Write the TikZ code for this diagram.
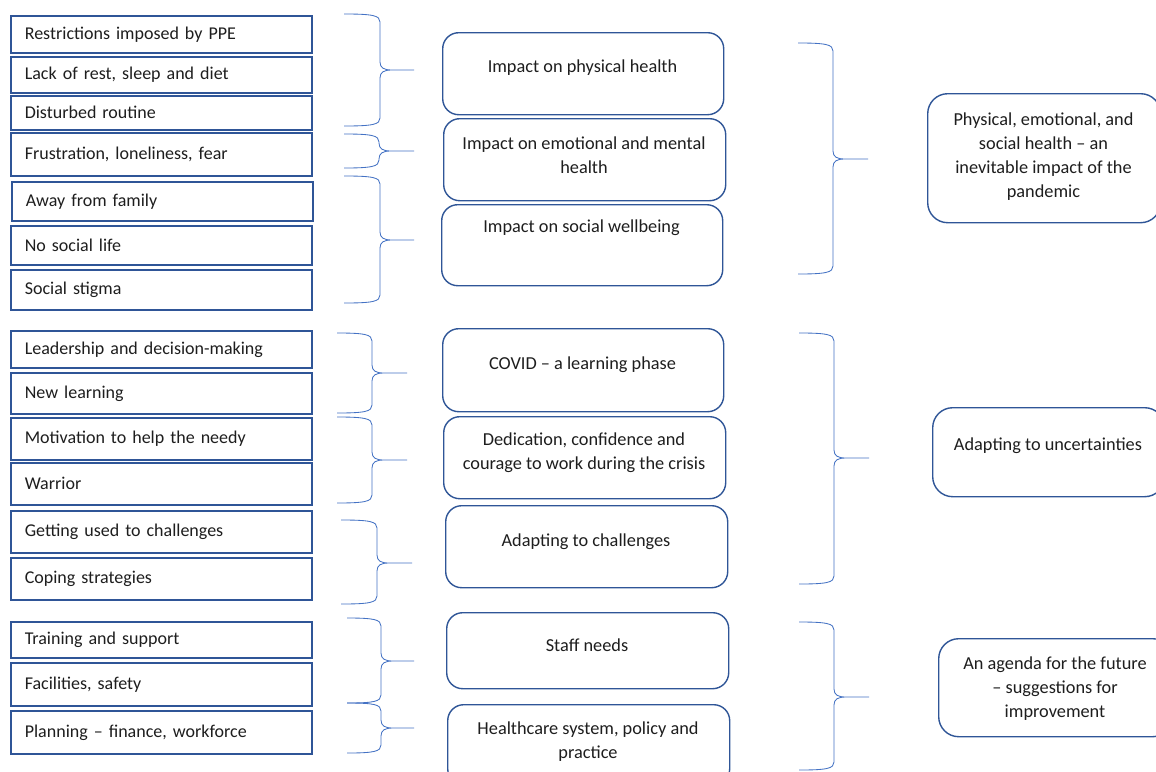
\documentclass[tikz,border=0pt]{standalone}
\usepackage{fontspec}
\setmainfont{Carlito}
\definecolor{boxblue}{HTML}{2F5597}
\definecolor{braceblue}{HTML}{4472C4}
\definecolor{ink}{HTML}{1E1E1E}
\tikzset{
  lbox/.style={draw=boxblue, line width=1.6pt, anchor=north west, minimum width=301pt,
    text width=273pt, inner xsep=14pt, inner ysep=0pt, align=left, text=ink,
    font=\fontsize{18}{24}\selectfont},
  mbox/.style={draw=boxblue, line width=1.4pt, rounded corners=16pt, anchor=north west, inner sep=0pt},
  rbox/.style={draw=boxblue, line width=1.4pt, rounded corners=20pt, anchor=north west, inner sep=0pt},
  txt/.style={align=center, text=ink, inner sep=0pt, yshift=-2pt},
  brc/.style={draw=braceblue, line width=0.85pt},
}
% name x0 x1 x2 yt ym yb
\newcommand\mybrace[7]{%
  \coordinate (#1) at (#4,#6);
  \draw[brc] (#2,#5) .. controls (#3-7,#5) and (#3,#5+1.5) .. (#3,#5+8)
    -- (#3,#6-8) .. controls (#3,#6-2) and (#3+4,#6) .. (#3+12,#6) -- (#1)
    (#3+12,#6) .. controls (#3+4,#6) and (#3,#6+2) .. (#3,#6+8)
    -- (#3,#7-8) .. controls (#3,#7-1.5) and (#3-7,#7) .. (#2,#7);
}
\begin{document}
\begin{tikzpicture}[x=1pt,y=-1pt,font=\fontsize{18.3}{24}\selectfont]
\clip (0,0) rectangle (1156,771);
\fill[white] (0,0) rectangle (1156,771);
% left boxes
\node[lbox, minimum height=37pt] (l1) at (10,15) {Restrictions imposed by PPE};
\node[lbox, minimum height=36pt] (l2) at (10,56) {Lack of rest, sleep and diet};
\node[lbox, minimum height=34pt] (l3) at (10,95) {Disturbed routine};
\node[lbox, minimum height=43pt] (l4) at (10,132) {Frustration, loneliness, fear};
\node[lbox, minimum height=39pt] (l5) at (11,181) {Away from family};
\node[lbox, minimum height=39pt] (l6) at (10,225) {No social life};
\node[lbox, minimum height=40pt] (l7) at (10,269) {Social stigma};
\node[lbox, minimum height=37pt] (l8) at (10,330) {Leadership and decision-making};
\node[lbox, minimum height=41pt] (l9) at (10,372) {New learning};
\node[lbox, minimum height=42pt] (l10) at (10,417) {Motivation to help the needy};
\node[lbox, minimum height=42pt] (l11) at (10,462) {Warrior};
\node[lbox, minimum height=42pt] (l12) at (10,510) {Getting used to challenges};
\node[lbox, minimum height=42pt] (l13) at (10,557) {Coping strategies};
\node[lbox, minimum height=36pt] (l14) at (10,621) {Training and support};
\node[lbox, minimum height=43pt] (l15) at (10,662) {Facilities, safety};
\node[lbox, minimum height=43pt] (l16) at (10,710) {Planning -- finance, workforce};
% left braces
\mybrace{b1}{344}{380}{414}{14}{70}{126}
\mybrace{b2}{344}{379}{414}{134}{151}{168}
\mybrace{b3}{344}{380}{414}{176}{240}{303}
\mybrace{b4}{337}{372}{407}{333}{373}{413}
\mybrace{b5}{337}{372}{407}{417}{460}{503}
\mybrace{b6}{341}{377}{412}{520}{563}{604}
\mybrace{b7}{347}{381}{414}{618}{661}{703}
\mybrace{b8}{347}{381}{414}{703}{728}{753}
% middle boxes
\node[mbox, minimum width=281pt, minimum height=82pt] (m1) at (442,32) {};
\node[txt] (m1t) at (582.5,66) {Impact on physical health};
\node[mbox, minimum width=282pt, minimum height=82pt] (m2) at (443,118) {};
\node[txt] (m2t) at (584,153) {Impact on emotional and mental\\health};
\node[mbox, minimum width=281pt, minimum height=81pt] (m3) at (441,204) {};
\node[txt] (m3t) at (581.5,226) {Impact on social wellbeing};
\node[mbox, minimum width=281pt, minimum height=83pt] (m4) at (442,328) {};
\node[txt] (m4t) at (582.5,363) {COVID -- a learning phase};
\node[mbox, minimum width=282pt, minimum height=82pt] (m5) at (443,416) {};
\node[txt] (m5t) at (584,451) {Dedication, confidence and\\courage to work during the crisis};
\node[mbox, minimum width=282pt, minimum height=82pt] (m6) at (445,505) {};
\node[txt] (m6t) at (586,540) {Adapting to challenges};
\node[mbox, minimum width=282pt, minimum height=76pt] (m7) at (446,612) {};
\node[txt] (m7t) at (587,643) {Staff needs};
\node[mbox, minimum width=282pt, minimum height=80pt] (m8) at (447,704) {};
\node[txt] (m8t) at (588,739.5) {Healthcare system, policy and\\practice};
% right braces
\mybrace{R1}{798}{833}{868}{43}{159}{274}
\mybrace{R2}{799}{834}{869}{333}{458}{584}
\mybrace{R3}{799}{834}{869}{622}{697}{770}
% right boxes
\node[rbox, minimum width=233pt, minimum height=129pt] (r1) at (927,93) {};
\node[txt] (r1t) at (1043.5,154.5) {Physical, emotional, and\\social health -- an\\inevitable impact of the\\pandemic};
\node[rbox, minimum width=232pt, minimum height=89pt] (r2) at (932,407) {};
\node[txt] (r2t) at (1048,444) {Adapting to uncertainties};
\node[rbox, minimum width=234pt, minimum height=98pt] (r3) at (938,638) {};
\node[txt] (r3t) at (1055,687) {An agenda for the future\\-- suggestions for\\improvement};
\end{tikzpicture}
\end{document}
